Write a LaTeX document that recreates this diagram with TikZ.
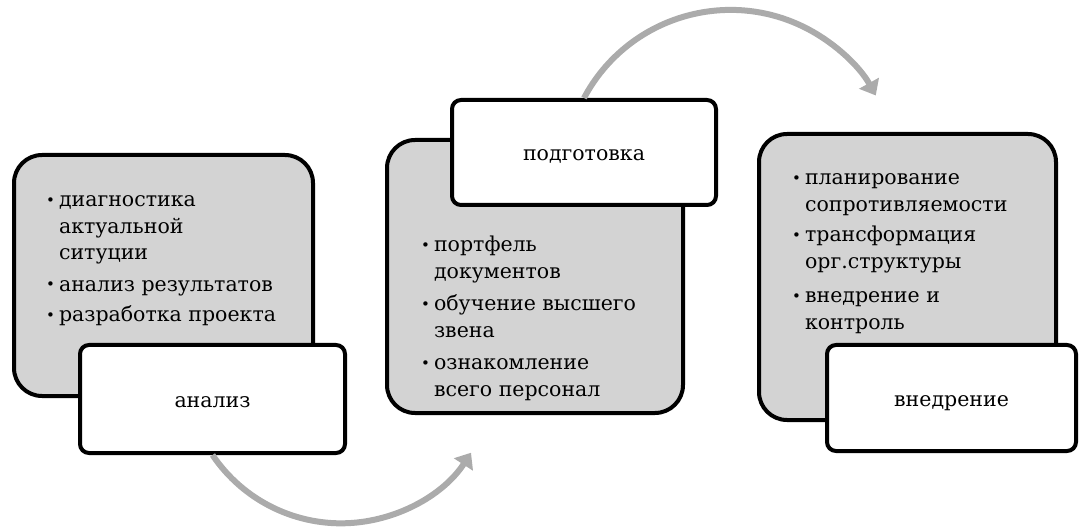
\documentclass[tikz,border=0pt]{standalone}
\usepackage{fontspec}
\setmainfont{DejaVu Serif}
\usetikzlibrary{arrows.meta}
\definecolor{cardgray}{RGB}{211,211,211}
\definecolor{flowgray}{RGB}{171,171,171}
\newcommand{\bul}{\raisebox{1.5pt}{\fontsize{15}{15}\selectfont\textbullet}}

\begin{document}
\begin{tikzpicture}[x=1pt, y=-1pt,
  card/.style={draw, line width=4pt, fill=cardgray, rounded corners=28pt},
  tag/.style={draw, line width=4pt, fill=white, rounded corners=9pt,
    text height=17pt, text depth=0pt, font=\fontsize{20.5}{26.5}\selectfont},
  items/.style={anchor=base west, inner sep=0pt, font=\fontsize{20.5}{26.5}\selectfont},
  flow/.style={draw=flowgray, line width=6pt, -{Triangle[length=14pt,width=22pt]}}]
\useasboundingbox (0,0) rectangle (1082,529);

% stage 1
\node[card, minimum width=299pt, minimum height=241pt] (g1) at (163.5,275.5) {};
\node[items] (t1) at (46,207) {\begin{tabular}[t]{@{}l@{\hspace{4pt}}l@{}}
  \bul & диагностика\\ & актуальной\\ & ситуции\\[5pt]
  \bul & анализ результатов\\[4pt]
  \bul & разработка проекта
\end{tabular}};
\node[tag, minimum width=265pt, minimum height=108pt] (l1) at (212.5,399) {анализ};

% stage 2
\node[card, minimum width=296pt, minimum height=273pt] (g2) at (535,276.5) {};
\node[items] (t2) at (421,252) {\begin{tabular}[t]{@{}l@{\hspace{4pt}}l@{}}
  \bul & портфель\\ & документов\\[6pt]
  \bul & обучение высшего\\ & звена\\[6pt]
  \bul & ознакомление\\ & всего персонал
\end{tabular}};
\node[tag, minimum width=264pt, minimum height=105pt] (l2) at (584,152.5) {подготовка};

% stage 3
\node[card, minimum width=297pt, minimum height=286pt] (g3) at (907.5,277) {};
\node[items] (t3) at (792,185) {\begin{tabular}[t]{@{}l@{\hspace{4pt}}l@{}}
  \bul & планирование\\ & сопротивляемости\\[4pt]
  \bul & трансформация\\ & орг.структуры\\[8pt]
  \bul & внедрение и\\ & контроль
\end{tabular}};
\node[tag, minimum width=249pt, minimum height=106pt] (l3) at (951.5,398) {внедрение};

% arrows between stages
\draw[flow] (l1.south) arc[start angle=146, end angle=33, radius=155];
\draw[flow] (l2.north) arc[start angle=208, end angle=331, radius=166];
\end{tikzpicture}
\end{document}
